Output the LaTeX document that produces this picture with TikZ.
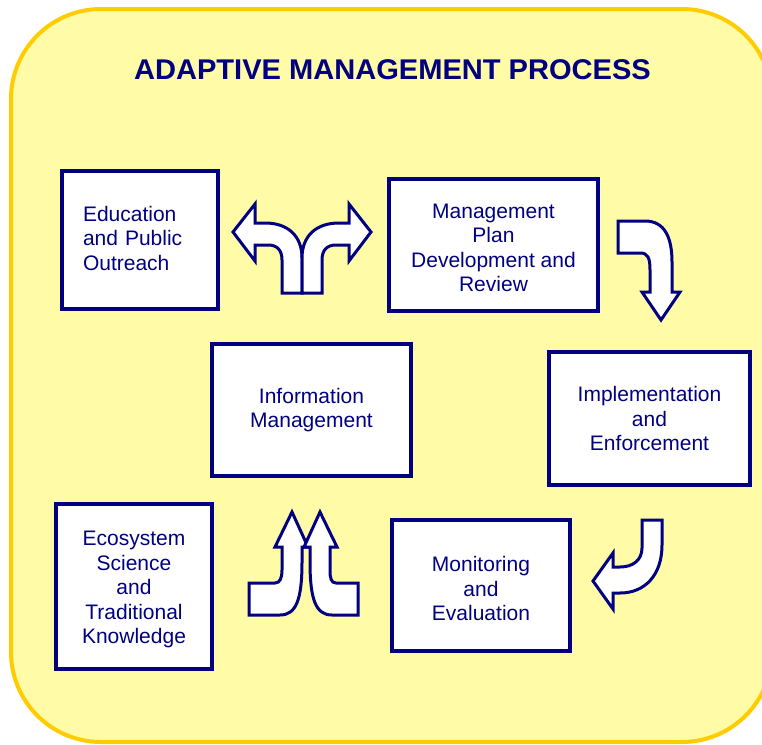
\documentclass[tikz,border=0pt]{standalone}
\usepackage{fontspec}
\setmainfont{Liberation Sans}
\definecolor{navy}{RGB}{0,0,128}
\definecolor{bgyellow}{RGB}{255,251,166}
\definecolor{bgborder}{RGB}{255,204,0}
\tikzset{
  bgbox/.style={fill=bgyellow, draw=bgborder, line width=4pt, rounded corners=90pt},
  stepbox/.style={draw=navy, fill=white, line width=3.5pt, inner sep=0pt},
  steptext/.style={text=navy, align=center, font=\fontsize{21}{24.5}\selectfont, inner sep=0pt},
  bigarrow/.style={draw=navy, fill=white, line width=3pt, line join=miter, miter limit=10},
}
\begin{document}
\begin{tikzpicture}[x=1pt,y=-1pt]
\useasboundingbox (0,0) rectangle (762,744);
\begin{scope}
  \clip (0,0) rectangle (762,744);
  \draw[bgbox] (11,9) rectangle (772,742);
\end{scope}
\node[text=navy, font=\bfseries\fontsize{28.5}{30}\selectfont, xscale=1.02] (title) at (392.5,70) {ADAPTIVE MANAGEMENT PROCESS};

\node[stepbox, minimum width=156pt, minimum height=138pt] (edu) at (140,240) {};
\node[stepbox, minimum width=209pt, minimum height=132pt] (plan) at (493.5,245) {};
\node[stepbox, minimum width=201pt, minimum height=133pt] (impl) at (649.5,418.5) {};
\node[stepbox, minimum width=199pt, minimum height=132pt] (info) at (311.5,410) {};
\node[stepbox, minimum width=156pt, minimum height=165pt] (eco) at (134,586.5) {};
\node[stepbox, minimum width=178pt, minimum height=131pt] (mon) at (481,585.5) {};

\node[steptext, text width=114pt, align=left] (edutext) at (140,238) {Education\\and Public\\Outreach};
\node[steptext] (plantext) at (493.5,248) {Management\\Plan\\Development and\\Review};
\node[steptext] (impltext) at (649.5,418.5) {Implementation\\and\\Enforcement};
\node[steptext] (infotext) at (311.5,410) {Information\\Management};
\node[steptext] (ecotext) at (134,589.5) {Ecosystem\\Science\\and\\Traditional\\Knowledge};
\node[steptext] (montext) at (481,588.5) {Monitoring\\and\\Evaluation};

% split arrow between education and plan
\draw[bigarrow] (302,293) -- (302,258) .. controls (302,236) and (288,223) .. (265,223) -- (255,223) -- (255,204) -- (233,232) -- (255,261) -- (255,245) -- (268,245) .. controls (277,245) and (282,250) .. (282,260) -- (282,293) -- cycle;
\draw[bigarrow] (302,293) -- (302,258) .. controls (302,236) and (316,223) .. (339,223) -- (349,223) -- (349,204) -- (371,232) -- (349,261) -- (349,245) -- (336,245) .. controls (327,245) and (322,250) .. (322,260) -- (322,293) -- cycle;

% plan to implementation
\draw[bigarrow] (618,221) -- (645,221) .. controls (665,221) and (672,238) .. (672,262) -- (672,292) -- (680,292) -- (661,320) -- (642,292) -- (650,292) -- (650,270) .. controls (650,258) and (648,253) .. (640,253) -- (618,253) -- cycle;

% implementation to monitoring
\draw[bigarrow] (642,520) -- (662,520) -- (662,545) .. controls (662,575) and (645,593) .. (620,593) -- (613,593) -- (613,609) -- (593,581) -- (613,553) -- (613,567) -- (620,567) .. controls (633,567) and (642,560) .. (642,548) -- cycle;

% merging arrows to information management
\draw[bigarrow] (249,583) -- (275,583) .. controls (280,583) and (282,578) .. (282,570) -- (282,547) -- (275,547) -- (292,512) -- (308,547) -- (302,547) -- (302,562) .. controls (302,600) and (296,615) .. (280,615) -- (249,615) -- cycle;
\draw[bigarrow] (358,583) -- (336,583) .. controls (331,583) and (330,578) .. (330,570) -- (330,547) -- (337,547) -- (320,512) -- (304,547) -- (310,547) -- (310,562) .. controls (310,600) and (316,615) .. (332,615) -- (358,615) -- cycle;
\end{tikzpicture}
\end{document}
